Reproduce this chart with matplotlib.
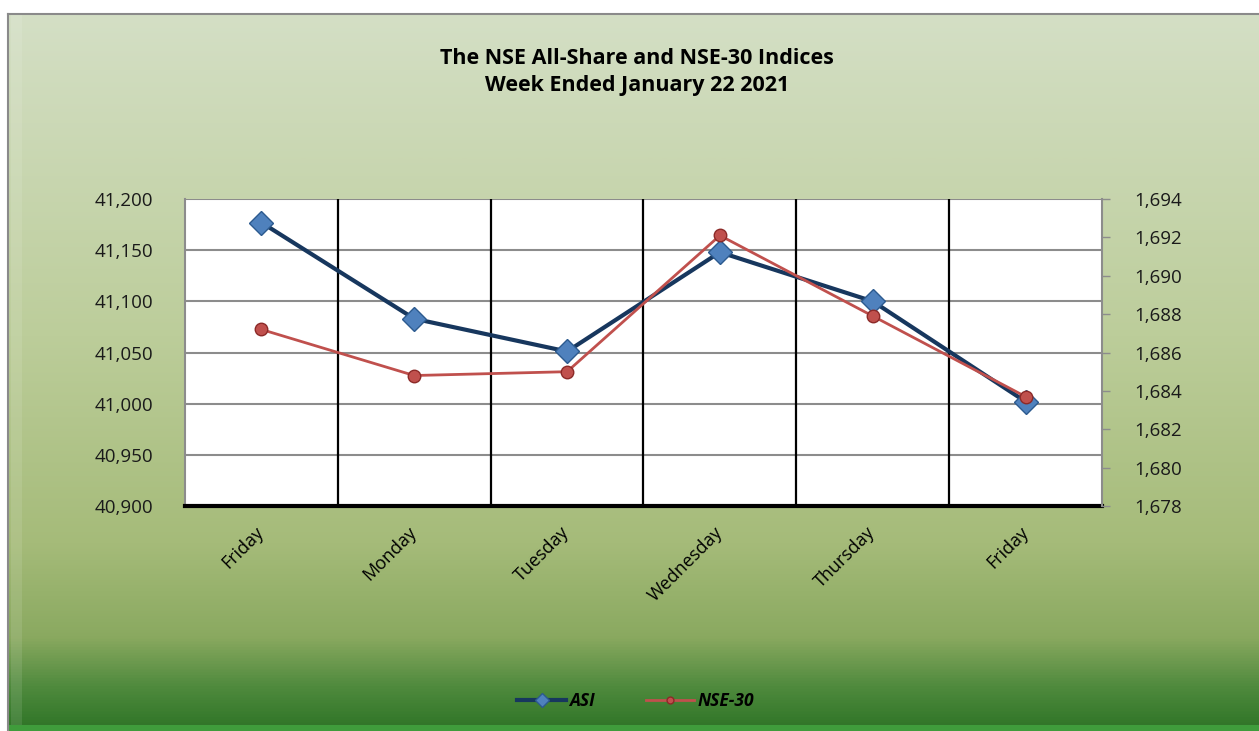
import numpy as np
import matplotlib
matplotlib.use("Agg")
import matplotlib.pyplot as plt
from matplotlib.colors import LinearSegmentedColormap
from matplotlib.ticker import FuncFormatter

# --- DATA ---
days = ["Friday", "Monday", "Tuesday", "Wednesday", "Thursday", "Friday"]
asi = [41177, 41083, 41051, 41148, 41100, 41002]
nse30 = [1687.2, 1684.8, 1685.0, 1692.1, 1687.9, 1683.7]

W, H = 1259, 731
plt.rcParams['font.family'] = ['Open Sans', 'DejaVu Sans']

fig = plt.figure(figsize=(W / 100, H / 100), dpi=100)
fig.patch.set_facecolor("white")

# --- gradient background (frame) ---
bg = fig.add_axes([8 / W, 0, 1 - 8 / W, (H - 14) / H], zorder=-5)
cmap = LinearSegmentedColormap.from_list("grn", [
    (0.0, "#d4dfc5"), (0.45, "#bccd9a"), (0.74, "#a5bb79"),
    (0.87, "#8aa960"), (0.94, "#4f8a3d"), (1.0, "#2e7426")])
grad = np.linspace(0, 1, 512).reshape(-1, 1)
bg.imshow(grad, aspect="auto", cmap=cmap, extent=[0, 1, 0, 1])
# bevel highlights
bg.axvspan(0.002, 0.011, color="white", alpha=0.1, lw=0)
bg.axhspan(0, 0.008, color="#3f9c3b", lw=0)
bg.set_xlim(0, 1)
bg.set_ylim(0, 1)
bg.set_xticks([])
bg.set_yticks([])
for s in bg.spines.values():
    s.set_color("#8a8a8a")
    s.set_linewidth(1.5)
bg.spines["bottom"].set_visible(False)
bg.spines["right"].set_visible(False)

# --- main plot ---
ax = fig.add_axes([185 / W, (H - 506) / H, (1102 - 185) / W, (506 - 199) / H])
ax.set_facecolor("white")
x = np.arange(len(days))

ax.set_xlim(-0.5, len(days) - 0.5)
ax.set_ylim(40900, 41200)
ax.set_yticks(np.arange(40900, 41201, 50))
ax.yaxis.set_major_formatter(FuncFormatter(lambda v, p: f"{v:,.0f}"))
ax.grid(axis="y", color="#8c8c8c", lw=1.5)
ax.set_axisbelow(True)
for b in np.arange(0.5, len(days) - 0.5, 1):
    ax.axvline(b, color="black", lw=1.6, zorder=1)

ax.plot(x, asi, color="#17375e", lw=3, marker="D", markersize=12.5,
        markerfacecolor="#4f81bd", markeredgecolor="#2c5a8f", markeredgewidth=1,
        zorder=3, label="ASI")

ax.set_xticks(x)
ax.set_xticklabels(days, rotation=45, ha="right", va="center",
                   rotation_mode="anchor", fontsize=13)
ax.tick_params(axis="x", length=0, pad=17)
ax.tick_params(axis="y", length=0, pad=23, labelsize=13.5, colors="#1a1a1a")
ax.spines["top"].set_visible(False)
ax.spines["right"].set_visible(False)
ax.spines["left"].set_color("#8c8c8c")
ax.spines["left"].set_linewidth(1.5)
ax.spines["bottom"].set_color("black")
ax.spines["bottom"].set_linewidth(3)

ax2 = ax.twinx()
ax2.set_ylim(1678, 1694)
ax2.set_yticks(np.arange(1678, 1695, 2))
ax2.yaxis.set_major_formatter(FuncFormatter(lambda v, p: f"{v:,.0f}"))
ax2.plot(x, nse30, color="#c0504d", lw=2, marker="o", markersize=9,
         markerfacecolor="#c0504d", markeredgecolor="#8c2a28", markeredgewidth=1,
         zorder=4, label="NSE-30")
ax2.tick_params(axis="y", length=6, width=1, color="#8c8c8c", pad=17,
                labelsize=13.5, labelcolor="#1a1a1a")
for s in ["top", "left", "bottom"]:
    ax2.spines[s].set_visible(False)
ax2.spines["right"].set_color("#8c8c8c")
ax2.spines["right"].set_linewidth(1.5)

# --- title ---
fig.text(0.506, (H - 58) / H, "The NSE All-Share and NSE-30 Indices",
         ha="center", va="center", fontsize=15.5, fontweight="bold")
fig.text(0.506, (H - 85) / H, "Week Ended January 22 2021",
         ha="center", va="center", fontsize=15.5, fontweight="bold")

# --- legend ---
h1, l1 = ax.get_legend_handles_labels()
h2, l2 = ax2.get_legend_handles_labels()
leg = fig.legend(h1 + h2, l1 + l2, loc="center", bbox_to_anchor=(0.505, (H - 701) / H),
                 ncol=2, frameon=False, handlelength=2.8, handletextpad=0.2,
                 columnspacing=2.9, markerscale=0.55,
                 prop={"weight": "bold", "style": "italic", "size": 12.5})

fig.savefig("out.png", dpi=100)
